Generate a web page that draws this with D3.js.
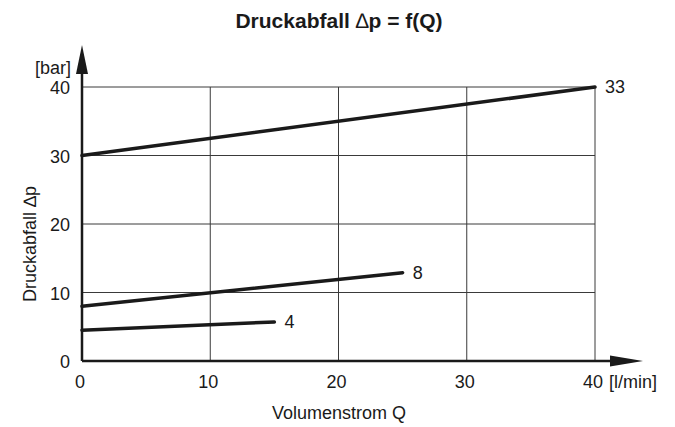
<!DOCTYPE html>
<html>
<head>
<meta charset="utf-8">
<script src="https://cdn.jsdelivr.net/npm/d3@7"></script>
<style>
  html, body { margin: 0; padding: 0; background: #fff; }
  svg { display: block; font-family: "Liberation Sans", Arial, sans-serif; }
</style>
</head>
<body>
<svg id="chart" width="675" height="427"></svg>
<script>
// Pressure drop curves: label, start point and end point (Q in l/min, Δp in bar)
const seriesNames = ["33", "8", "4"];
const seriesQ = [[0, 40], [0, 25], [0, 15]];
const seriesP = [[30, 40], [8, 12.9], [4.5, 5.7]];
const xTicks = [0, 10, 20, 30, 40];
const yTicks = [0, 10, 20, 30, 40];

const svg = d3.select("#chart");
const x = d3.scaleLinear().domain([0, 40]).range([82, 595]);
const y = d3.scaleLinear().domain([0, 40]).range([361, 87]);

const ink = "#1a1a1a";
const fs = 18;

// Title
const title = svg.append("text")
  .attr("x", 339).attr("y", 28)
  .attr("text-anchor", "middle")
  .attr("font-size", 21).attr("font-weight", "bold")
  .attr("fill", ink);
title.append("tspan").text("Druckabfall ");
title.append("tspan").attr("font-weight", "normal").text("\u2206");
title.append("tspan").text("p = f(Q)");

// Grid
const grid = svg.append("g").attr("stroke", "#3a3a3a").attr("stroke-width", 1);
grid.selectAll(".gv").data(xTicks.filter(d => d > 0)).join("line")
  .attr("x1", d => x(d)).attr("x2", d => x(d))
  .attr("y1", y(40)).attr("y2", y(0));
grid.selectAll(".gh").data(yTicks.filter(d => d > 0)).join("line")
  .attr("x1", x(0)).attr("x2", x(40))
  .attr("y1", d => y(d)).attr("y2", d => y(d));

// Axes with arrow heads
const axes = svg.append("g").attr("stroke", ink).attr("stroke-width", 2.5);
axes.append("line").attr("x1", x(0)).attr("x2", 620).attr("y1", y(0)).attr("y2", y(0));
axes.append("line").attr("x1", x(0)).attr("x2", x(0)).attr("y1", y(0)).attr("y2", 70);
svg.append("path")
  .attr("d", `M610,${y(0) - 5.5} L643,${y(0)} L610,${y(0) + 5.5} Z`)
  .attr("fill", ink);
svg.append("path")
  .attr("d", `M${x(0) - 6},74 L${x(0)},45 L${x(0) + 6},74 Z`)
  .attr("fill", ink);

// Tick labels
svg.append("g").selectAll("text").data(yTicks).join("text")
  .attr("x", 70).attr("y", d => y(d) + 7)
  .attr("text-anchor", "end").attr("font-size", fs).attr("fill", ink)
  .text(d => d);
svg.append("g").selectAll("text").data(xTicks).join("text")
  .attr("x", d => x(d) - 2).attr("y", 388)
  .attr("text-anchor", "middle").attr("font-size", fs).attr("fill", ink)
  .text(d => d);

// Units
svg.append("text").attr("x", 71).attr("y", 74)
  .attr("text-anchor", "end").attr("font-size", fs).attr("fill", ink)
  .text("[bar]");
svg.append("text").attr("x", x(40) + 14).attr("y", 388)
  .attr("font-size", fs).attr("fill", ink)
  .text("[l/min]");

// Axis titles
svg.append("text").attr("x", 339).attr("y", 419)
  .attr("text-anchor", "middle").attr("font-size", fs).attr("fill", ink)
  .text("Volumenstrom Q");
svg.append("text")
  .attr("transform", "translate(36,244) rotate(-90)")
  .attr("text-anchor", "middle").attr("font-size", fs).attr("fill", ink)
  .text("Druckabfall \u2206p");

// Curves
const line = d3.line().x(d => x(d[0])).y(d => y(d[1]));
seriesNames.forEach((name, i) => {
  const pts = seriesQ[i].map((q, j) => [q, seriesP[i][j]]);
  svg.append("path")
    .attr("d", line(pts))
    .attr("fill", "none").attr("stroke", ink)
    .attr("stroke-width", 3.5).attr("stroke-linecap", "round");
  const last = pts[pts.length - 1];
  svg.append("text")
    .attr("x", x(last[0]) + 10).attr("y", y(last[1]) + 6)
    .attr("font-size", fs).attr("fill", ink)
    .text(name);
});
</script>
</body>
</html>
